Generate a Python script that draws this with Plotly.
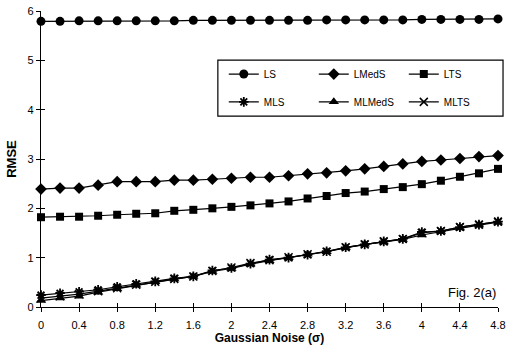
import plotly.graph_objects as go

# Noise levels (sigma)
sigma = [round(0.2 * i, 1) for i in range(25)]

ls = [5.79, 5.79, 5.80, 5.80, 5.80, 5.80, 5.80, 5.80, 5.81, 5.81, 5.81, 5.81, 5.81,
      5.81, 5.81, 5.82, 5.82, 5.82, 5.82, 5.82, 5.83, 5.83, 5.83, 5.83, 5.84]
lmeds = [2.39, 2.41, 2.41, 2.47, 2.54, 2.54, 2.54, 2.57, 2.57, 2.59, 2.61, 2.63, 2.63,
         2.66, 2.70, 2.72, 2.76, 2.80, 2.85, 2.90, 2.95, 2.98, 3.01, 3.05, 3.07]
lts = [1.82, 1.83, 1.83, 1.85, 1.87, 1.89, 1.90, 1.95, 1.97, 2.00, 2.03, 2.06, 2.10,
       2.14, 2.20, 2.25, 2.31, 2.34, 2.39, 2.43, 2.49, 2.56, 2.64, 2.71, 2.80]
mls = [0.24, 0.28, 0.31, 0.35, 0.41, 0.47, 0.52, 0.58, 0.62, 0.74, 0.79, 0.88, 0.96,
       1.00, 1.06, 1.13, 1.21, 1.27, 1.33, 1.38, 1.52, 1.54, 1.62, 1.67, 1.73]
mlmeds = [0.13, 0.18, 0.22, 0.30, 0.37, 0.44, 0.51, 0.57, 0.62, 0.72, 0.78, 0.87, 0.94,
          1.00, 1.07, 1.12, 1.20, 1.27, 1.32, 1.37, 1.46, 1.53, 1.60, 1.66, 1.72]
mlts = [0.18, 0.22, 0.26, 0.32, 0.38, 0.45, 0.51, 0.57, 0.62, 0.73, 0.80, 0.89, 0.95,
        1.01, 1.07, 1.12, 1.21, 1.27, 1.33, 1.38, 1.50, 1.54, 1.62, 1.67, 1.73]

x_ticks = [0, 0.4, 0.8, 1.2, 1.6, 2, 2.4, 2.8, 3.2, 3.6, 4, 4.4, 4.8]
x_labels = ["0", "0.4", "0.8", "1.2", "1.6", "2", "2.4", "2.8", "3.2", "3.6", "4", "4.4", "4.8"]
y_ticks = [0, 1, 2, 3, 4, 5, 6]

FONT = "Liberation Sans, Arial, sans-serif"

series = [
    ("LS", ls, dict(symbol="circle", size=9), "legend"),
    ("LMedS", lmeds, dict(symbol="diamond", size=9), "legend"),
    ("LTS", lts, dict(symbol="square", size=8), "legend"),
    ("MLS", mls, dict(symbol="asterisk-open", size=8, line=dict(width=1.8, color="black")), "legend2"),
    ("MLMedS", mlmeds, dict(symbol="triangle-up", size=9), "legend2"),
    ("MLTS", mlts, dict(symbol="x-thin-open", size=8, line=dict(width=1.5, color="black")), "legend2"),
]

fig = go.Figure()
for name, vals, marker, lg in series:
    marker = dict(color="black", **marker)
    fig.add_trace(go.Scatter(
        x=sigma, y=vals, name=name, mode="lines+markers",
        line=dict(color="black", width=1.2), marker=marker,
        cliponaxis=False, legend=lg,
    ))

axis_common = dict(showgrid=False, zeroline=False, tickcolor="black", ticklen=4, tickwidth=1)

fig.update_layout(
    width=507, height=350,
    margin=dict(l=41, r=9, t=11, b=43, autoexpand=False),
    paper_bgcolor="white", plot_bgcolor="white",
    font=dict(family=FONT, color="black", size=11),
    xaxis=dict(range=[0, 4.8], tickvals=x_ticks, ticktext=x_labels, ticks="outside",
               showline=True, linecolor="black", linewidth=1.2, tickfont=dict(size=11),
               ticklabelstandoff=4, automargin=False,
               title=dict(text="<b>Gaussian Noise (σ)</b>", font=dict(size=12), standoff=3),
               **axis_common),
    yaxis=dict(range=[0, 6], tickvals=y_ticks, ticks="outside", showline=True,
               linecolor="black", linewidth=1.2, tickfont=dict(size=11), automargin=False,
               title=dict(text="<b>RMSE</b>", font=dict(size=13), standoff=8),
               **axis_common),
    xaxis2=dict(range=[0, 4.8], tickvals=x_ticks, ticks="inside", overlaying="x",
                anchor="y", side="bottom", showticklabels=False, showline=False,
                **axis_common),
    yaxis2=dict(range=[0, 6], tickvals=y_ticks, ticks="inside", overlaying="y",
                anchor="x", side="left", showticklabels=False, showline=False,
                **axis_common),
    legend=dict(orientation="h", x=0.400, y=0.787, xanchor="left", yanchor="middle",
                entrywidth=45, bgcolor="rgba(0,0,0,0)", borderwidth=0,
                font=dict(size=10), itemclick=False),
    legend2=dict(orientation="h", x=0.400, y=0.693, xanchor="left", yanchor="middle",
                 entrywidth=45, bgcolor="rgba(0,0,0,0)", borderwidth=0,
                 font=dict(size=10), itemclick=False),
    shapes=[dict(type="rect", xref="paper", yref="paper",
                 x0=0.387, x1=1.011, y0=0.645, y1=0.834,
                 line=dict(color="black", width=1.2), fillcolor="rgba(0,0,0,0)", layer="below")],
    annotations=[dict(text="Fig. 2(a)", xref="paper", yref="paper", x=1.0, y=0.05,
                      xanchor="right", yanchor="middle", showarrow=False,
                      font=dict(size=13, family=FONT))],
)

# Invisible trace so the overlay axes are rendered
fig.add_trace(go.Scatter(x=[0], y=[0], xaxis="x2", yaxis="y2", mode="markers",
                         marker=dict(opacity=0), showlegend=False, hoverinfo="skip"))

fig.write_html("out.html")
